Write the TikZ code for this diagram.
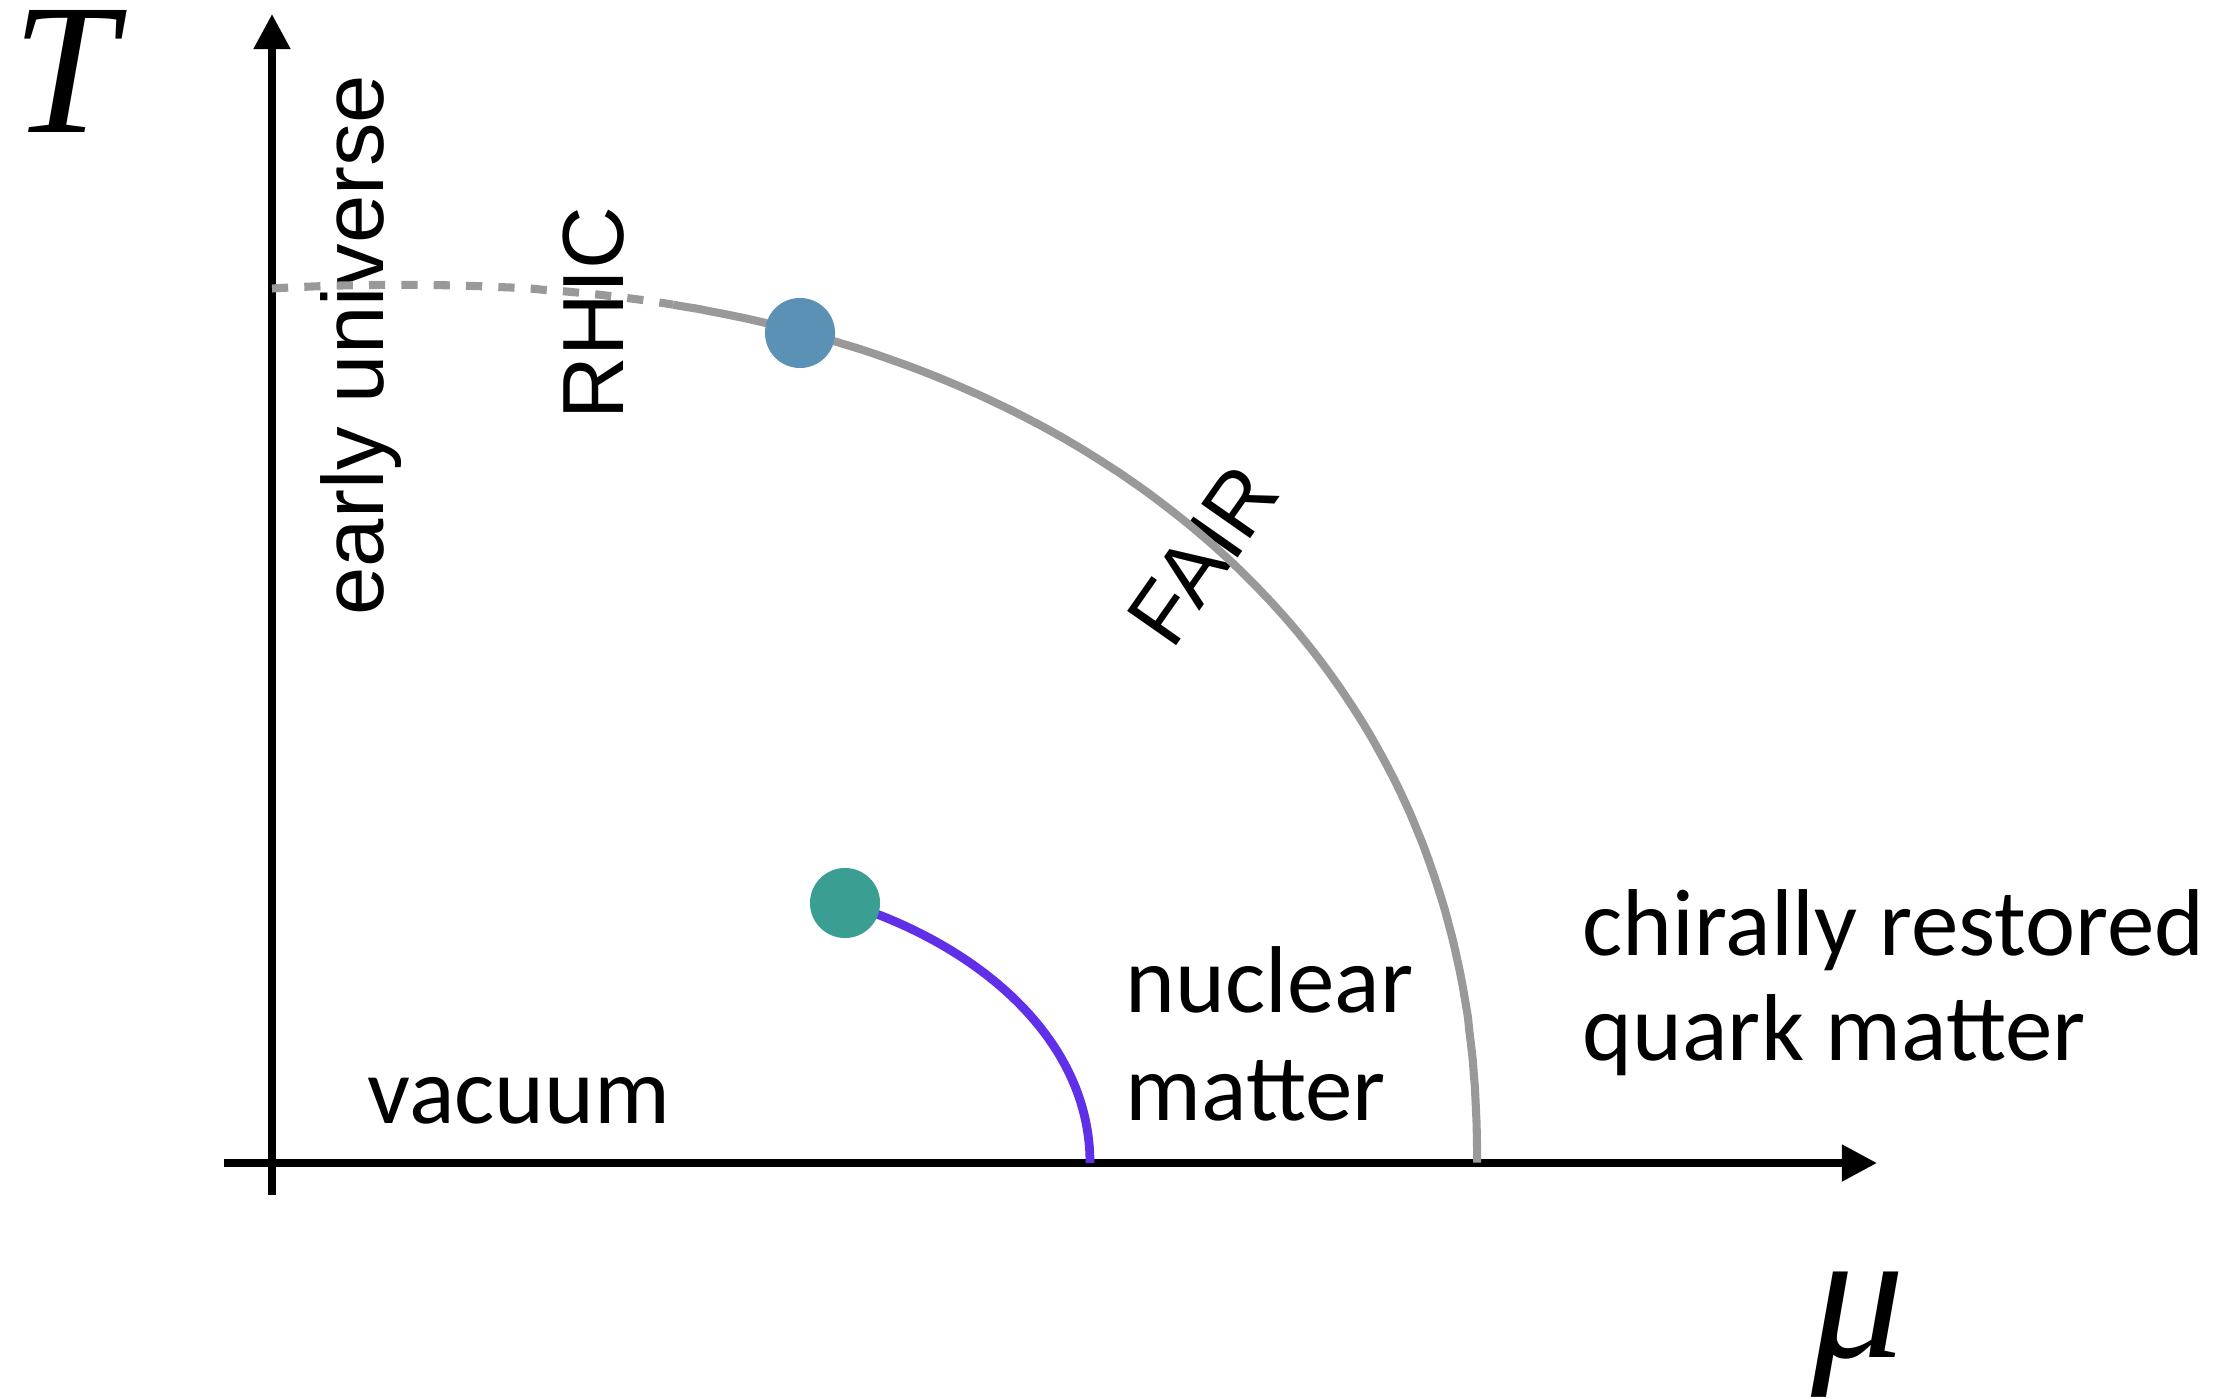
\documentclass[tikz,border=0pt]{standalone}
\usepackage{fontspec}
\setmainfont{Carlito}
\newfontfamily\arialf{Liberation Sans}
\newfontfamily\timesf{Liberation Serif}
\usetikzlibrary{arrows.meta}
\definecolor{curvegray}{HTML}{999999}
\definecolor{dotblue}{HTML}{5A91B4}
\definecolor{dotgreen}{HTML}{3A9E92}
\definecolor{linepurple}{HTML}{6030E8}
\begin{document}
\begin{tikzpicture}[x=0.01cm, y=-0.01cm,
  axisline/.style={line width=2.2pt, -{Triangle[length=10pt,width=10pt]}},
  plainaxis/.style={line width=2.2pt},
  phasecurve/.style={line width=2.3pt, draw=curvegray},
  crossover/.style={phasecurve, dash pattern=on 4.6pt off 4.6pt},
  liquidgas/.style={line width=2.5pt, draw=linepurple},
  critdot/.style={circle, minimum size=0.7cm, inner sep=0pt, draw=none},
  axislabel/.style={font=\timesf\itshape\fontsize{53}{60}\selectfont, anchor=base, inner sep=0pt, text height=36pt},
  region/.style={font=\fontsize{27}{32}\selectfont, anchor=base west, inner sep=0pt},
  expt/.style={font=\arialf\fontsize{24.7}{30}\selectfont, inner sep=0pt}]
\useasboundingbox (0,0) rectangle (2234,1398);

% axis end points
\coordinate (xleft) at (224,1163);
\coordinate (xright) at (1877,1163);
\coordinate (ybottom) at (272,1195);
\coordinate (ytop) at (272,14);

% axis labels
\node[axislabel] (Tlab) at (64,133) {T};
\node[axislabel] (mulab) at (1858,1357) {μ};

% region labels
\node[region] (vac) at (367,1123) {vacuum};
\node[region] (nuc1) at (1125,1012) {nuclear};
\node[region] (nuc2) at (1125,1120) {matter};
\node[region] (qm1) at (1582,955) {chirally restored};
\node[region] (qm2) at (1582,1060) {quark matter};

% experiment labels
\node[expt, rotate=90, anchor=base] (early) at (383,345) {early universe};
\node[expt, rotate=90, anchor=base] (rhic) at (623,313) {RHIC};
\node[expt, rotate=55, anchor=center] (fair) at (1203,555) {FAIR};

% axes
\draw[plainaxis] (ybottom) -- (272,1163);
\draw[axisline] (xleft) -- (xright);
\draw[axisline] (ybottom) -- (ytop);

% chiral transition line (superellipse)
\pgfmathsetmacro\tz{acos(pow(273/1077,1.1))}
\draw[crossover] plot[domain=272:673, samples=50, variable=\x]
  (\x, {1163 - 878*pow(1 - pow(abs((\x-400)/1077), 2.2), 1/2.2)});
\draw[phasecurve] plot[domain=\tz:0.01, samples=120, variable=\t]
  ({400 + 1077*pow(cos(\t), 0.90909)}, {1163 - 878*pow(sin(\t), 0.90909)});

% liquid-gas line
\coordinate (lgend) at (1090,1163);
\node[critdot] (gdotpos) at (845,903) {};
\draw[liquidgas] (gdotpos.center) .. controls (980,945) and (1090,1040) .. (lgend);

% critical points
\node[critdot, fill=dotblue] (bdot) at (800,333) {};
\node[critdot, fill=dotgreen] (gdot) at (gdotpos) {};
\end{tikzpicture}
\end{document}
